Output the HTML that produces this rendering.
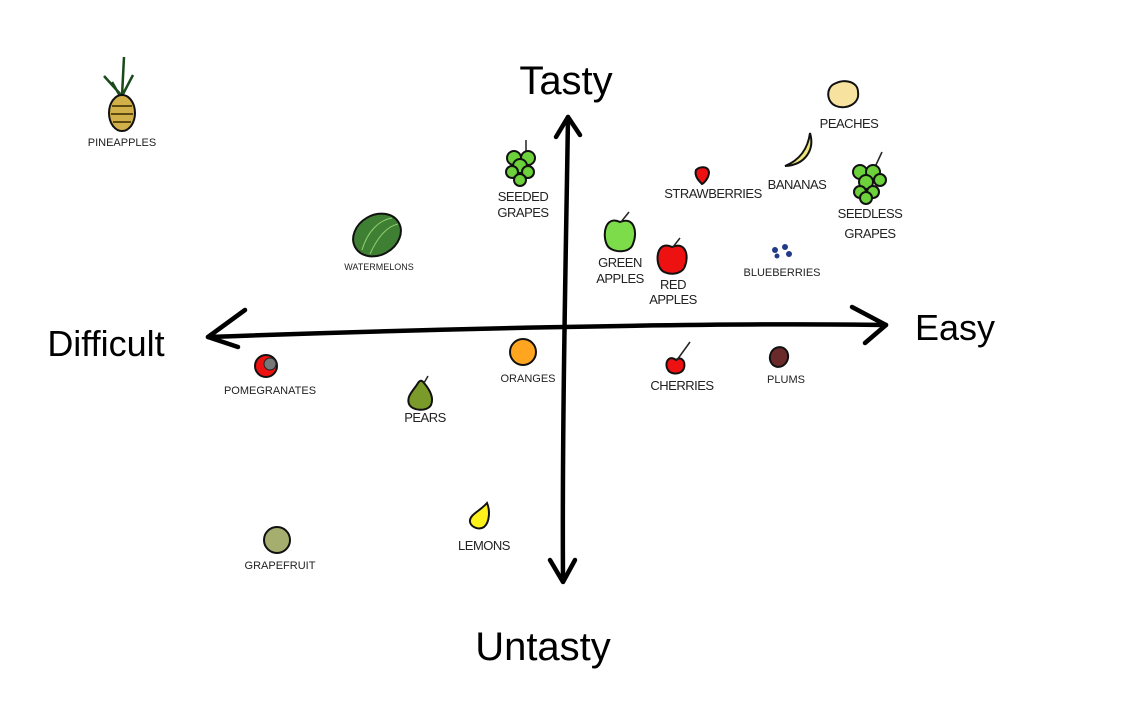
<!DOCTYPE html>
<html><head><meta charset="utf-8"><style>
html,body{margin:0;padding:0;background:#fff;}
svg{display:block}
text{font-family:"Liberation Sans",sans-serif;fill:#222;text-anchor:middle}
.l{font-size:13px;letter-spacing:-0.5px}
.s{font-size:11px}
.big{font-family:"Liberation Sans",sans-serif;fill:#000;font-size:40px}
.o{stroke:#111;stroke-width:2}
</style></head><body>
<svg width="1125" height="718" viewBox="0 0 1125 718" xmlns="http://www.w3.org/2000/svg">
<rect width="1125" height="718" fill="#fff"/>
<g fill="none" stroke="#000" stroke-width="4.5" stroke-linecap="round" stroke-linejoin="round">
<path d="M208,337 C400,330 700,322 886,325"/>
<path d="M245,310 L208,337 L238,347"/>
<path d="M852,307 L886,325 L865,343"/>
<path d="M568,117 C566,250 562,420 563,580"/>
<path d="M556,137 L568,117 L580,135"/>
<path d="M550,560 L563,582 L575,560"/>
</g>
<text class="big" x="566" y="94">Tasty</text>
<text class="big" x="955" y="340" style="font-size:36px">Easy</text>
<text class="big" x="106" y="356" style="font-size:36px">Difficult</text>
<text class="big" x="543" y="660">Untasty</text>

<!-- pineapple -->
<g stroke="#1a4a1a" stroke-width="2.5" fill="none"><path d="M122,96 L124,57 M122,96 L104,76 M122,96 L133,75 M120,96 L112,82"/></g>
<ellipse cx="122" cy="113" rx="13" ry="18" fill="#d1b04a" class="o"/>
<path d="M112,106 h20 M111,114 h22 M113,122 h18" stroke="#5a4a10" stroke-width="2"/>
<text class="s" x="122" y="146">PINEAPPLES</text>

<!-- seeded grapes -->
<line x1="526" y1="140" x2="526" y2="152" stroke="#222" stroke-width="1.5"/>
<g fill="#6cd13a" class="o" stroke-width="1.5">
<circle cx="514" cy="158" r="7"/><circle cx="528" cy="158" r="7"/><circle cx="520" cy="166" r="7"/><circle cx="512" cy="172" r="6"/><circle cx="528" cy="172" r="6"/><circle cx="520" cy="180" r="6"/>
</g>
<text class="l" x="523" y="201">SEEDED</text>
<text class="l" x="523" y="217">GRAPES</text>

<!-- watermelon -->
<ellipse cx="377" cy="235" rx="25" ry="20" transform="rotate(-30 377 235)" fill="#3f7f33" class="o" stroke-width="2.5"/>
<path d="M362,250 C368,230 380,220 392,218 M370,254 C378,236 388,226 398,224" stroke="#8fcf70" stroke-width="1" fill="none"/>
<text x="379" y="270" style="font-size:9px">WATERMELONS</text>

<!-- green apple -->
<path d="M620,222 C605,215 602,235 607,245 C611,253 630,254 633,244 C638,232 634,216 620,222Z" fill="#7cdc4a" class="o"/>
<line x1="621" y1="222" x2="629" y2="212" stroke="#222" stroke-width="1.5"/>
<text class="l" x="620" y="267">GREEN</text>
<text class="l" x="620" y="283">APPLES</text>

<!-- red apple -->
<path d="M672,247 C657,240 655,260 660,268 C664,276 682,276 685,266 C689,256 686,241 672,247Z" fill="#ee1111" class="o"/>
<line x1="673" y1="247" x2="680" y2="238" stroke="#222" stroke-width="1.5"/>
<text class="l" x="673" y="289">RED</text>
<text class="l" x="673" y="304">APPLES</text>

<!-- strawberry -->
<path d="M696,170 C700,166 708,166 709,172 C709,178 704,183 702,184 C699,181 694,176 696,170Z" fill="#e11" class="o" stroke-width="1.5"/>
<text class="l" x="713" y="198">STRAWBERRIES</text>

<!-- banana -->
<path d="M810,133 C815,150 805,165 785,166 C800,160 808,148 810,133Z" fill="#efe67a" class="o" stroke-width="1.5"/>
<text class="l" x="797" y="189">BANANAS</text>

<!-- peaches -->
<path d="M834,84 C845,78 858,82 858,92 C860,104 846,110 836,106 C826,102 826,88 834,84Z" fill="#f7e2a0" class="o"/>
<text class="l" x="849" y="128">PEACHES</text>

<!-- seedless grapes -->
<line x1="875" y1="167" x2="882" y2="152" stroke="#222" stroke-width="1.5"/>
<g fill="#6cd13a" class="o" stroke-width="1.5">
<circle cx="860" cy="172" r="7"/><circle cx="873" cy="172" r="7"/><circle cx="880" cy="180" r="6"/><circle cx="866" cy="182" r="7"/><circle cx="860" cy="192" r="6"/><circle cx="873" cy="192" r="6"/><circle cx="866" cy="198" r="6"/>
</g>
<text class="l" x="870" y="218">SEEDLESS</text>
<text class="l" x="870" y="238">GRAPES</text>

<!-- blueberries -->
<g fill="#223a88"><circle cx="775" cy="250" r="3"/><circle cx="785" cy="247" r="3"/><circle cx="789" cy="254" r="3"/><circle cx="777" cy="256" r="2.5"/></g>
<text class="s" x="782" y="276">BLUEBERRIES</text>

<!-- pomegranate -->
<circle cx="266" cy="366" r="11" fill="#e11" class="o"/>
<circle cx="270" cy="364" r="6" fill="#777" stroke="#222" stroke-width="1"/>
<text class="s" x="270" y="394">POMEGRANATES</text>

<!-- pear -->
<path d="M424,383 C430,390 434,398 431,405 C427,412 412,411 409,404 C406,396 414,390 418,383 C420,380 422,380 424,383Z" fill="#7a9a2a" class="o"/>
<line x1="424" y1="383" x2="428" y2="376" stroke="#222" stroke-width="1.5"/>
<text class="l" x="425" y="422">PEARS</text>

<!-- orange -->
<circle cx="523" cy="352" r="13" fill="#ffa51f" class="o"/>
<text class="s" x="528" y="382">ORANGES</text>

<!-- cherry -->
<path d="M676,360 C668,354 664,364 668,370 C671,375 682,375 684,368 C686,360 680,356 676,360Z" fill="#ee1111" class="o"/>
<line x1="677" y1="360" x2="690" y2="342" stroke="#222" stroke-width="1.5"/>
<text class="l" x="682" y="390">CHERRIES</text>

<!-- plum -->
<ellipse cx="779" cy="357" rx="9" ry="10" transform="rotate(20 779 357)" fill="#6b2a2a" class="o"/>
<text class="s" x="786" y="383">PLUMS</text>

<!-- lemon -->
<path d="M487,503 C490,510 490,522 484,527 C478,531 469,526 470,520 C471,514 480,511 487,503Z" fill="#fff21a" class="o"/>
<text class="l" x="484" y="550">LEMONS</text>

<!-- grapefruit -->
<circle cx="277" cy="540" r="13" fill="#a5ae6e" class="o"/>
<text class="s" x="280" y="569">GRAPEFRUIT</text>
</svg>
</body></html>
